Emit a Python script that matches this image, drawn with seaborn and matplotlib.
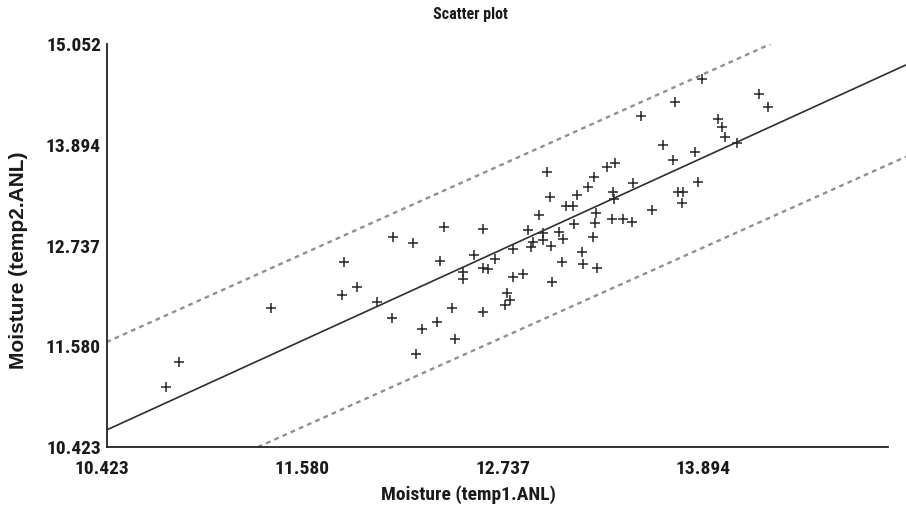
import matplotlib
matplotlib.use("Agg")
import matplotlib.pyplot as plt
from matplotlib.transforms import ScaledTranslation
import seaborn as sns
import pandas as pd

# ---- data ----
temp1 = [10.766, 10.841, 11.372, 11.794, 11.782, 11.869, 11.984, 12.071, 12.076, 12.192,
         12.371, 12.348, 12.244, 12.330, 12.417, 12.209, 12.434, 12.544, 12.480, 12.480,
         12.596, 12.625, 12.596, 12.596, 12.665, 12.769, 12.827, 12.769, 12.734, 12.751,
         12.723, 12.855, 12.919, 12.873, 12.884, 12.942, 12.942, 12.988, 12.994, 13.034,
         13.057, 13.052, 13.075, 13.115, 13.121, 13.167, 13.173, 13.230, 13.242, 13.248,
         13.254, 12.965, 12.982, 13.138, 13.202, 13.236, 13.311, 13.357, 13.346, 13.352,
         13.340, 13.404, 13.456, 13.461, 13.507, 13.571, 13.634, 13.692, 13.704, 13.721,
         13.750, 13.744, 13.819, 13.836, 13.859, 13.952, 13.975, 13.992, 14.061, 14.188,
         14.240]
temp2 = [11.112, 11.399, 12.019, 12.548, 12.169, 12.260, 12.088, 11.904, 12.835, 12.766,
         12.950, 12.559, 11.778, 11.859, 12.019, 11.491, 11.663, 12.628, 12.433, 12.352,
         12.479, 12.467, 12.927, 11.973, 12.582, 12.697, 12.410, 12.375, 12.192, 12.111,
         12.054, 12.915, 13.087, 12.720, 12.777, 12.881, 12.800, 12.731, 12.318, 12.892,
         12.812, 12.548, 13.191, 13.191, 12.984, 12.662, 12.525, 12.835, 12.995, 13.110,
         12.479, 13.581, 13.294, 13.317, 13.409, 13.524, 13.639, 13.685, 13.351, 13.271,
         13.041, 13.041, 13.007, 13.455, 14.224, 13.145, 13.891, 13.719, 14.385, 13.351,
         13.351, 13.225, 13.811, 13.466, 14.649, 14.190, 14.098, 13.983, 13.914, 14.477,
         14.328]

fit_x = [10.423, 15.052]
fit_y = [10.618, 14.826]
upper_x = [10.423, 14.255]
upper_y = [11.628, 15.052]
lower_x = [11.297, 15.037]
lower_y = [10.423, 13.758]

tick_values = [10.423, 11.580, 12.737, 13.894, 15.052]
x_ticks = tick_values[:4]
y_ticks = tick_values

title = "Scatter plot"
xlabel = "Moisture (temp1.ANL)"
ylabel = "Moisture (temp2.ANL)"

# ---- figure ----
sns.set_theme(style="white")
narrow = ["Liberation Sans Narrow", "Roboto Condensed", "DejaVu Sans"]
plt.rcParams["font.family"] = narrow

W, H = 906, 509
fig = plt.figure(figsize=(W / 100, H / 100), dpi=100)
left_px, right_px, top_px, bot_px = 106.5, 906, 44, 447
ax = fig.add_axes([left_px / W, (H - bot_px) / H, (right_px - left_px) / W, (bot_px - top_px) / H])

df = pd.DataFrame({"t1": temp1, "t2": temp2})
sns.scatterplot(data=df, x="t1", y="t2", marker="+", s=50, color="#262626",
                linewidth=1.1, ax=ax, zorder=3)

sns.lineplot(x=fit_x, y=fit_y, color="#2e2e2e", linewidth=1.2, ax=ax, zorder=2)
sns.lineplot(x=upper_x, y=upper_y, color="#909090", linewidth=1.7, ax=ax,
             zorder=1).lines[-1].set_dashes((2.0, 1.8))
sns.lineplot(x=lower_x, y=lower_y, color="#909090", linewidth=1.7, ax=ax,
             zorder=1).lines[-1].set_dashes((2.0, 1.8))

xmax = 10.423 + (right_px - left_px) * 1.157 / 200.5
ax.set_xlim(10.423, xmax)
ax.set_ylim(10.423, 15.052)

for side in ["top", "right"]:
    ax.spines[side].set_visible(False)
for side in ["left", "bottom"]:
    ax.spines[side].set_color("#222222")
    ax.spines[side].set_linewidth(1.3)
ax.spines["bottom"].set_bounds(10.423, 14.933)
ax.spines["left"].set_bounds(10.423, 15.052)

ax.set_xticks(x_ticks)
ax.set_xticklabels([f"{v:.3f}" for v in x_ticks])
ax.set_yticks(y_ticks)
ax.set_yticklabels([f"{v:.3f}" for v in y_ticks])
ax.tick_params(axis="both", which="major", direction="inout", length=4, width=1,
               color="#222222", labelsize=14, labelcolor="#1a1a1a")
ax.tick_params(axis="x", pad=7)
ax.tick_params(axis="y", pad=2)
for lab in ax.get_xticklabels():
    lab.set_fontweight("bold")
    lab.set_transform(lab.get_transform() + ScaledTranslation(-0.05, 0, fig.dpi_scale_trans))
for lab in ax.get_yticklabels():
    lab.set_fontweight("bold")

ax.set_xlabel("")
ax.set_ylabel("")
ax.grid(False)

fig.text(470 / W, 1 - 15 / H, title, ha="center", va="center", fontsize=11.5,
         fontweight="bold", color="#1a1a1a")
fig.text(468 / W, 1 - 495 / H, xlabel, ha="center", va="center", fontsize=14,
         fontweight="bold", color="#1a1a1a")
fig.text(19 / W, 1 - 260 / H, ylabel, ha="center", va="center", rotation=90,
         fontsize=15, fontweight="bold", color="#1a1a1a",
         family=["Liberation Sans", "DejaVu Sans"])

fig.savefig("out.png", dpi=100, facecolor="white")
